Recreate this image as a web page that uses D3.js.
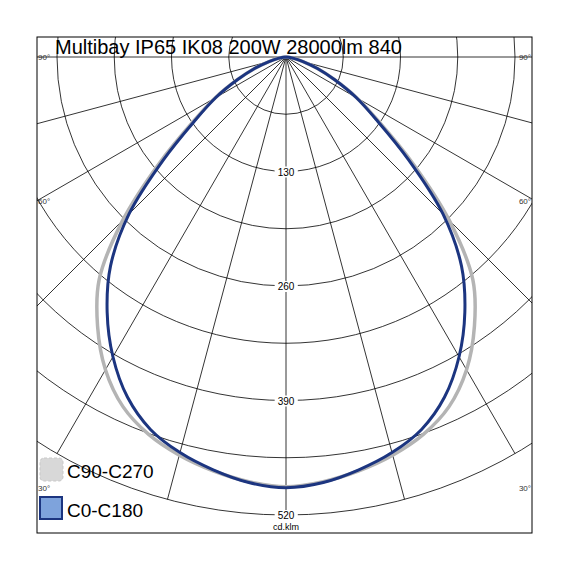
<!DOCTYPE html>
<html>
<head>
<meta charset="UTF-8">
<script src="https://cdn.jsdelivr.net/npm/d3@7"></script>
<style>body{margin:0;background:#fff}</style>
</head>
<body>
<div id="grafica"></div>
<script>
// data
titulo = 'Multibay IP65 IK08 200W 28000lm 840'
gammas = [0,5,10,15,20,25,30,35,40,45,50,55,60,65,70,75,80,85,90]
c0 =  [489,485,476,465,450,426,393,354,310,252,182,127,92,61,38,20,9,3,0]
c90 = [488,484,477,468,456,438,410,373,330,262,188,130,93,61,38,20,9,3,0]
anillos = [65,130,195,260,325,390,455,520]
etiquetasR = [130,260,390,520]
radiales = [-90,-75,-60,-45,-30,-15,0,15,30,45,60,75,90]
etiquetasAng = [{a:90,y:'90°'},{a:60,y:'60°'},{a:30,y:'30°'}]
series = [{nombre:'C90-C270',datos:c90},{nombre:'C0-C180',datos:c0}]

W=570, H=570
cx=286, cy=57
box={x:37,y:37,w:495,h:496}

svg=d3.select('#grafica').append('svg').attr('width',W).attr('height',H)
svg.append('defs').append('clipPath').attr('id','clip')
  .append('rect').attr('x',box.x).attr('y',box.y).attr('width',box.w).attr('height',box.h)

r=d3.scaleLinear().domain([0,520]).range([0,458])
pt=(g,v)=>{ a=g*Math.PI/180; return [cx+r(v)*Math.sin(a), cy+r(v)*Math.cos(a)] }

g=svg.append('g').attr('clip-path','url(#clip)')

anillos.forEach(v=>{
  g.append('circle').attr('cx',cx).attr('cy',cy).attr('r',r(v))
    .attr('fill','none').attr('stroke','#000').attr('stroke-width',0.8)
})
radiales.forEach(a=>{
  p=pt(a,520)
  g.append('line').attr('x1',cx).attr('y1',cy).attr('x2',p[0]).attr('y2',p[1])
    .attr('stroke','#000').attr('stroke-width',0.8)
})

// curves: left half (negative gamma) + right half
linea=d3.line().x(d=>pt(d[0],d[1])[0]).y(d=>pt(d[0],d[1])[1]).curve(d3.curveCatmullRom)
colores={'C90-C270':'#b4b4b4','C0-C180':'#1c3580'}
anchos={'C90-C270':3.5,'C0-C180':3}
series.forEach(s=>{
  pts=gammas.map((gm,i)=>[-gm,s.datos[i]]).reverse().concat(gammas.slice(1).map((gm,i)=>[gm,s.datos[i+1]]))
  g.append('path').attr('d',linea(pts)).attr('fill','none')
    .attr('stroke',colores[s.nombre]).attr('stroke-width',anchos[s.nombre])
})

// ring labels
etiquetasR.forEach(v=>{
  t=svg.append('text').attr('x',cx).attr('y',cy+r(v)+4).attr('text-anchor','middle')
    .attr('font-family','Liberation Sans, Arial').attr('font-size',10).text(v)
  bb=t.node().getBBox()
  svg.insert('rect','text:last-of-type').attr('x',bb.x-3).attr('y',bb.y).attr('width',bb.width+6).attr('height',bb.height).attr('fill','#fff')
})
svg.append('text').attr('x',cx).attr('y',530).attr('text-anchor','middle')
  .attr('font-family','Liberation Sans, Arial').attr('font-size',9).text('cd.klm')

// angle labels at box edges
etiquetasAng.forEach(e=>{
  a=e.a*Math.PI/180
  yy=cy+(cx-box.x)/Math.tan(a)
  if(e.a==90) yy=cy
  ;[[box.x+1,'start'],[box.x+box.w-1,'end']].forEach(s=>{
    svg.append('text').attr('x',s[0]).attr('y',yy+3).attr('text-anchor',s[1])
      .attr('font-family','Liberation Sans, Arial').attr('font-size',8).attr('fill','#333').text(e.y)
  })
})

svg.append('rect').attr('x',box.x).attr('y',box.y).attr('width',box.w).attr('height',box.h)
  .attr('fill','none').attr('stroke','#000').attr('stroke-width',1)

// title
svg.append('text').attr('x',55).attr('y',54).attr('font-family','Liberation Sans, Arial')
  .attr('font-size',20).text(titulo)

// legend
leg=svg.append('g')
series.forEach((s,i)=>{
  y0=458+i*39
  if(s.nombre=='C90-C270'){
    leg.append('rect').attr('x',40).attr('y',y0).attr('width',23).attr('height',23).attr('rx',4)
      .attr('fill','#d8d8d8').attr('stroke','#c8c8c8').attr('stroke-dasharray','3,2')
  } else {
    leg.append('rect').attr('x',40).attr('y',y0).attr('width',22).attr('height',22)
      .attr('fill','#7ea3dc').attr('stroke','#1c3580').attr('stroke-width',2)
  }
  leg.append('text').attr('x',67).attr('y',y0+20).attr('font-family','Liberation Sans, Arial')
    .attr('font-size',19).text(s.nombre)
})
</script>
</body>
</html>
